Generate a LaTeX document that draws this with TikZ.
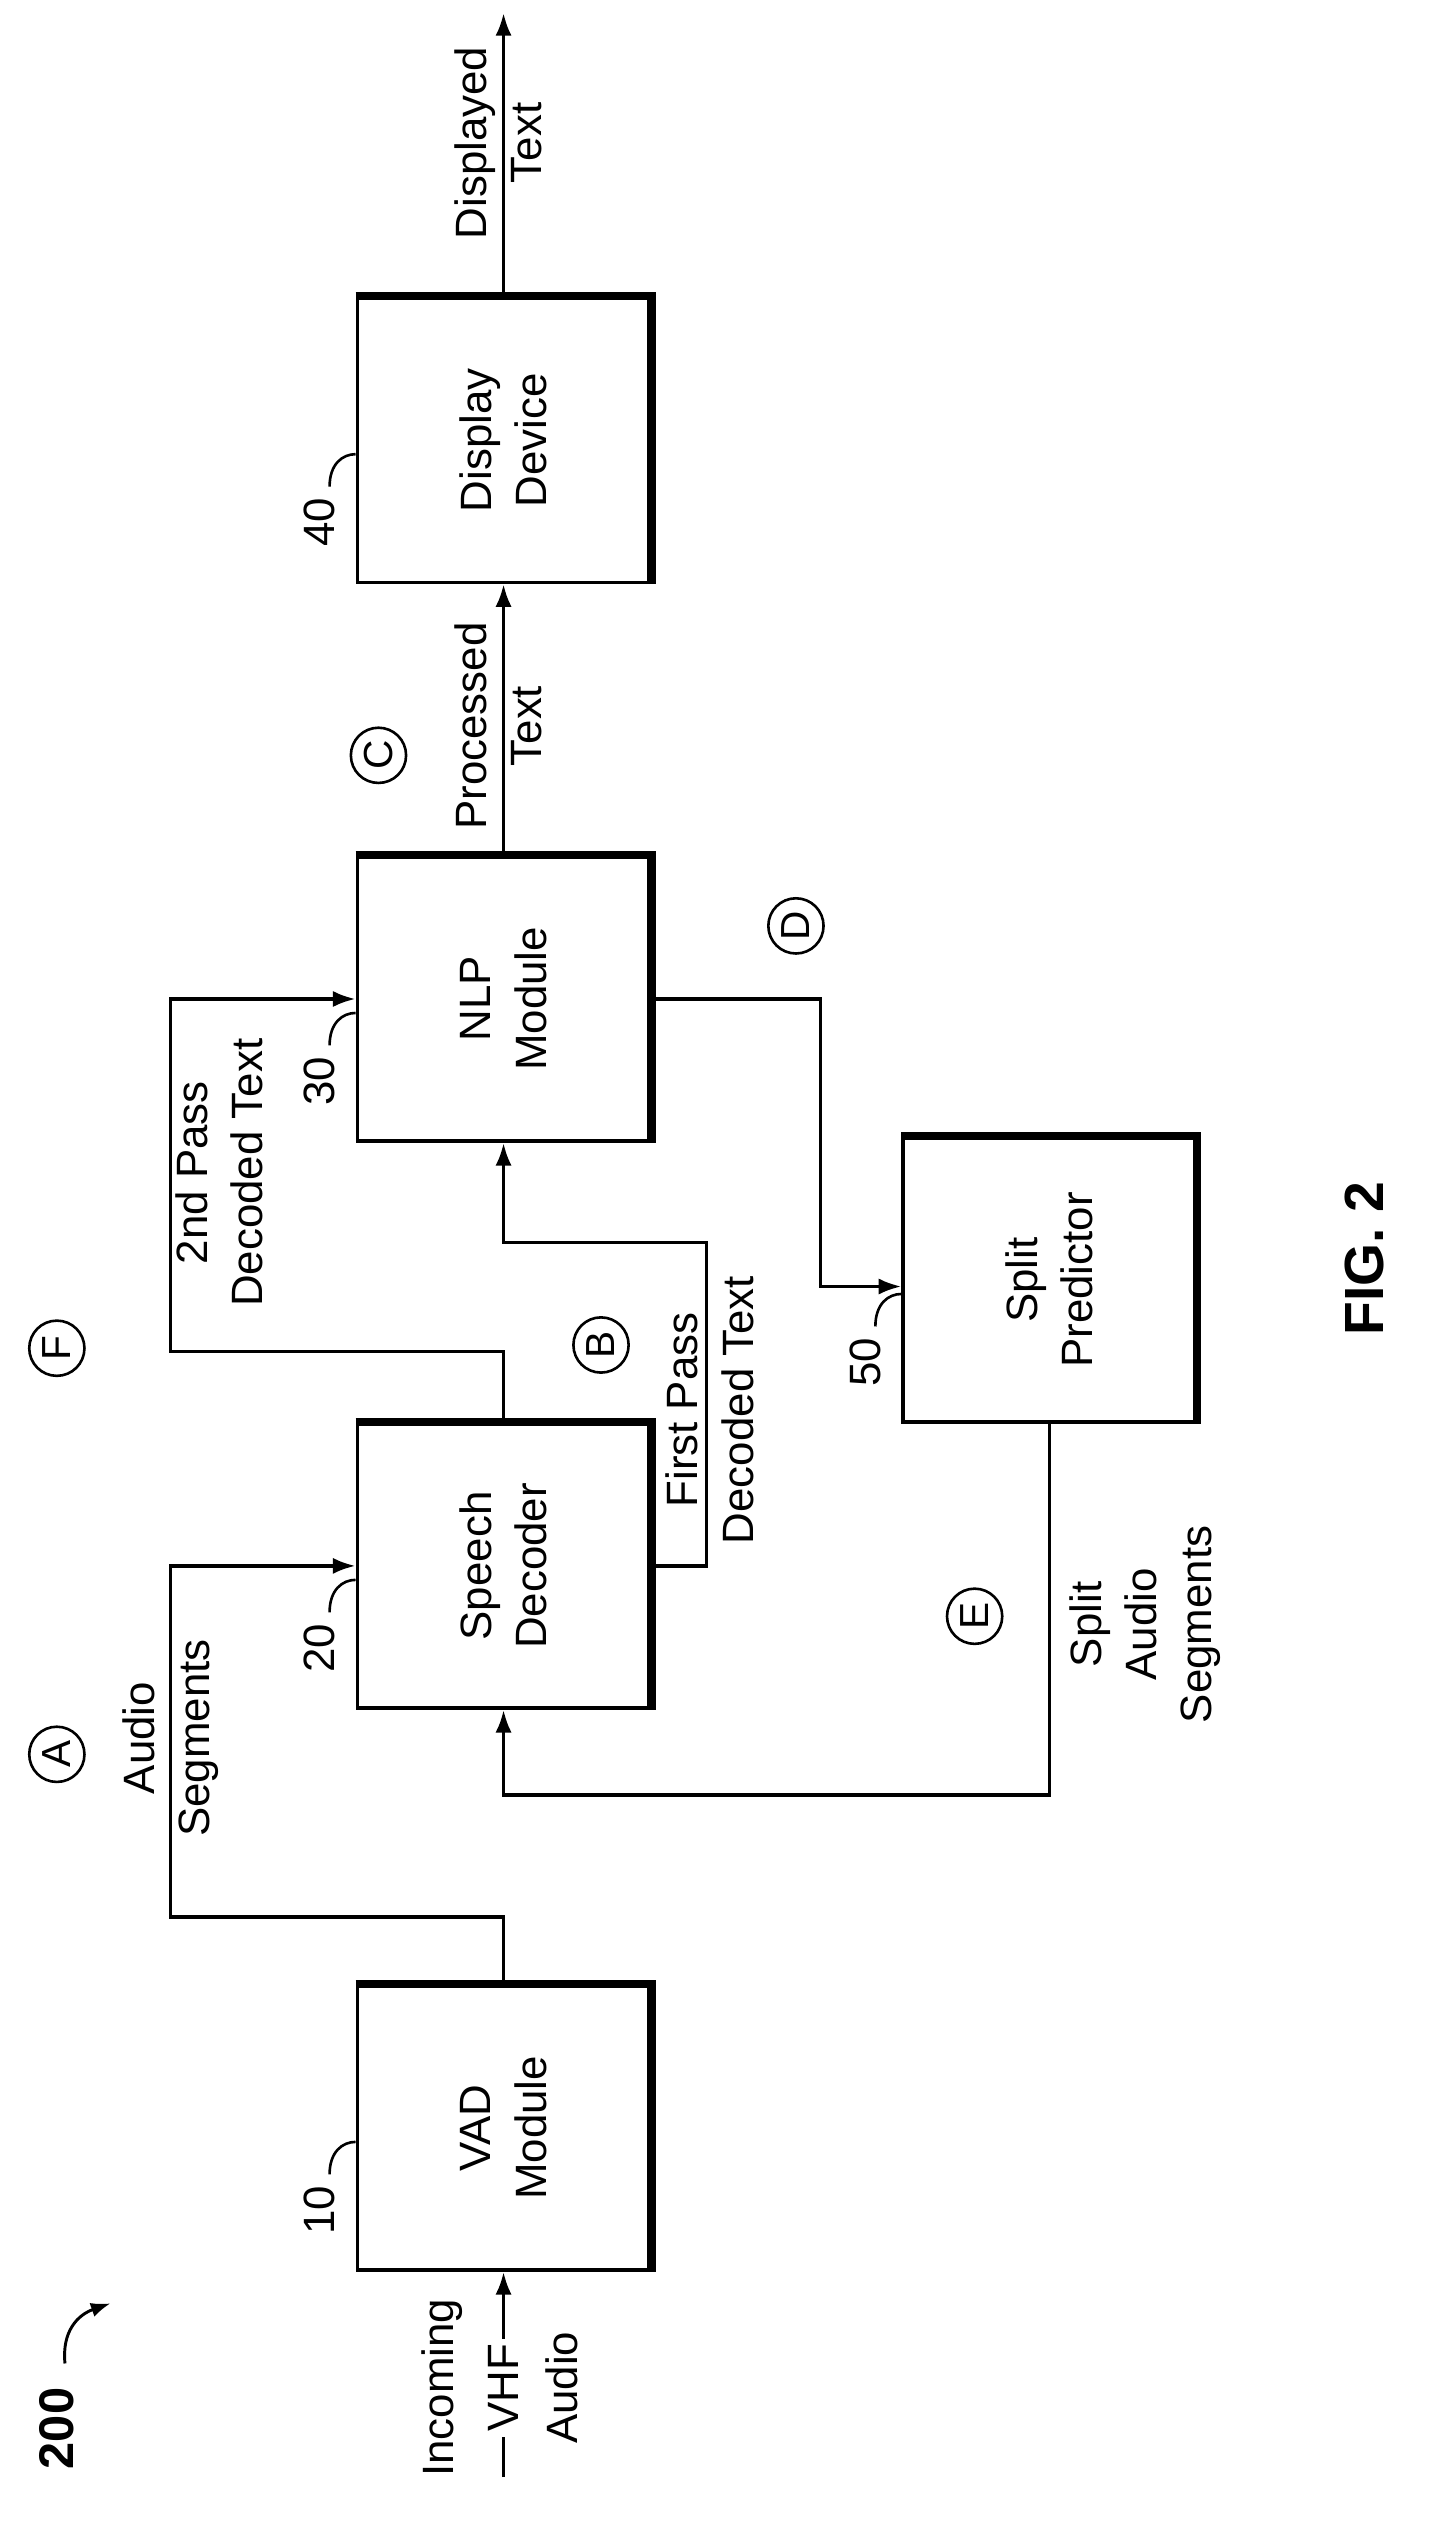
\documentclass[tikz,border=0pt]{standalone}
\usepackage{fontspec}
\setmainfont{Liberation Sans}
\usetikzlibrary{arrows.meta}
\begin{document}
\begin{tikzpicture}[x=1pt,y=-1pt,line width=2.2pt,
	box/.style={draw,minimum width=180pt,minimum height=175pt,inner sep=0pt},
	lbl/.style={rotate=90,align=center,font=\fontsize{27}{34}\selectfont},
	ltr/.style={draw,circle,line width=1.6pt,minimum size=34pt,inner sep=0pt,rotate=90,font=\fontsize{25}{30}\selectfont},
	line/.style={-{Latex[length=14pt,width=10pt]}}]
	\useasboundingbox (0,0) rectangle (880,1568);
	% blocks
	\node[box] (vad) at (310,1310) {};
	\node[box] (dec) at (310,964) {};
	\node[box] (nlp) at (310,615) {};
	\node[box] (disp) at (310,271) {};
	\node[box] (split) at (646,788) {};
	\node[lbl] at (vad) {VAD\\Module};
	\node[lbl] at (dec) {Speech\\Decoder};
	\node[lbl] at (nlp) {NLP\\Module};
	\node[lbl] at (disp) {Display\\Device};
	\node[lbl] at (split) {Split\\Predictor};
	% heavy edges
	\foreach \b in {vad,dec,nlp,disp,split}
		\draw[line width=5pt] (\b.north west) -- (\b.north east) -- (\b.south east);
	% reference numerals
	\foreach \b/\n in {vad/10,dec/20,nlp/30,disp/40,split/50} {
		\node[lbl] (n\b) at ([xshift=-22pt,yshift=38pt]\b.south west) {\n};
		\draw[line width=1.6pt] ([xshift=-16pt,yshift=60pt]\b.south west) .. controls ([xshift=-16pt,yshift=74pt]\b.south west) and ([xshift=-8pt,yshift=80pt]\b.south west) .. ([yshift=80pt]\b.south west);
	}
	% bend points
	\coordinate (in) at (310,1525);
	\coordinate (a1) at (105,1180);
	\coordinate (f1) at (105,832);
	\coordinate (b1) at (435,765);
	\coordinate (d1) at (505,792);
	\coordinate (e1) at (646,1105);
	\coordinate (out) at (310,8);
	% connectors
	\draw[line] (in) -- (vad.south);
	\node[lbl,fill=white,inner sep=3pt] at (310,1470) {VHF};
	\node[lbl] at (272,1470) {Incoming};
	\node[lbl] at (346,1470) {Audio};
	\draw[line] (vad.north) |- (a1) |- (dec.west);
	\node[lbl] at (105,1070) {Audio\\Segments};
	\node[ltr] at (35,1080) {A};
	\draw[line] (dec.north) |- (f1) |- (nlp.west);
	\node[lbl] at (135,722) {2nd Pass\\Decoded Text};
	\node[ltr] at (35,830) {F};
	\draw[line] (dec.east) -| (b1) -| (nlp.south);
	\node[lbl] at (437,868) {First Pass\\Decoded Text};
	\node[ltr] at (370,828) {B};
	\draw[line] (nlp.north) -- (disp.south);
	\node[lbl] at (307,447) {Processed\\Text};
	\node[ltr] at (233,465) {C};
	\draw[line] (disp.north) -- (out);
	\node[lbl] at (307,88) {Displayed\\Text};
	\draw[line] (nlp.east) -| (d1) -- (split.west |- d1);
	\node[ltr] at (490,570) {D};
	\draw[line] (split.south) |- (e1) -| (dec.south);
	\node[lbl] at (705,1000) {Split\\Audio\\Segments};
	\node[ltr] at (600,995) {E};
	% figure labels
	\node[lbl,font=\bfseries\fontsize{30}{36}\selectfont] (num) at (35,1495) {200};
	\draw[-{Latex[length=12pt,width=9pt]},line width=1.8pt] (40,1455) .. controls (38,1435) and (48,1425) .. (68,1418);
	\node[lbl,font=\bfseries\fontsize{34}{40}\selectfont] (fig) at (840,775) {FIG. 2};
\end{tikzpicture}
\end{document}
